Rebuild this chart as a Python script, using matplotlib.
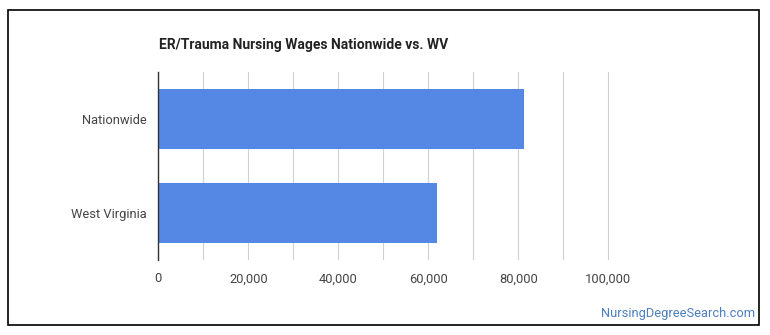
import matplotlib
matplotlib.use("Agg")
import matplotlib.pyplot as plt
from matplotlib.patches import Rectangle
from matplotlib.ticker import FuncFormatter, MultipleLocator

plt.rcParams['font.family'] = ['Roboto', 'DejaVu Sans']

categories = ['Nationwide', 'West Virginia']
wages = [81300, 61900]
tick_values = [0, 20000, 40000, 60000, 80000, 100000]

fig = plt.figure(figsize=(7.7, 3.35), dpi=100)
# 90 px per 20,000 -> axis runs a bit past 100,000 so its gridline shows
ax = fig.add_axes([158.3 / 770, 1 - 260 / 335, 454.5 / 770, 188.3 / 335])

# outer frame
fig.patches.append(Rectangle((8 / 770, 1 - 325 / 335), 751 / 770, 315 / 335,
                             transform=fig.transFigure, fill=False,
                             edgecolor='black', linewidth=1.2))

ypos = list(range(len(categories)))
ax.barh(ypos, wages, height=0.64, color='#5587E4', zorder=3)

ax.set_xlim(0, 101000)
ax.set_ylim(1.5, -0.5)
ax.set_yticks(ypos)
ax.set_yticklabels(categories)
ax.set_xticks(tick_values)
ax.xaxis.set_minor_locator(MultipleLocator(10000))
ax.xaxis.set_major_formatter(FuncFormatter(lambda v, p: f'{int(v):,}'))
ax.grid(True, axis='x', which='both', color='#d0d0d0', linewidth=0.8, zorder=0)
ax.tick_params(axis='both', which='both', length=0, labelsize=9.3, colors='#444444')
ax.tick_params(axis='x', pad=9)
ax.tick_params(axis='y', pad=8)

for s in ['top', 'right', 'bottom']:
    ax.spines[s].set_visible(False)
ax.spines['left'].set_color('#333333')
ax.spines['left'].set_linewidth(1.0)
ax.spines['left'].set_zorder(4)

fig.text(159 / 770, 1 - 45 / 335, 'ER/Trauma Nursing Wages Nationwide vs. WV',
         fontsize=10, fontweight='bold', color='#222222', va='center', ha='left')
fig.text(755 / 770, 1 - 313 / 335, 'NursingDegreeSearch.com',
         fontsize=9.3, color='#4a7fc1', va='center', ha='right')

fig.savefig('out.png', dpi=100, facecolor='white')
